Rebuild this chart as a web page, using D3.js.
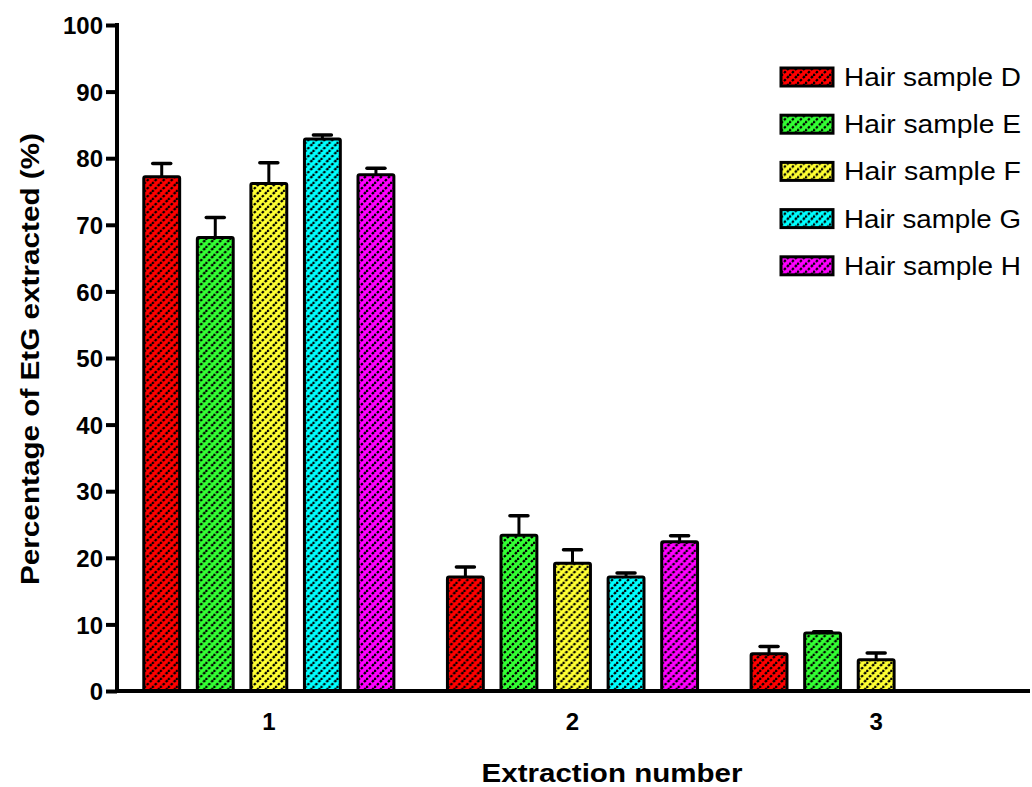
<!DOCTYPE html>
<html>
<head>
<meta charset="utf-8">
<script src="https://cdn.jsdelivr.net/npm/d3@7"></script>
<style>
  html, body { margin: 0; padding: 0; background: #fff; }
  svg { display: block; }
  text { font-family: "Liberation Sans", Arial, sans-serif; fill: #000; }
</style>
</head>
<body>
<svg id="chart" width="1032" height="787"></svg>
<script>
// Extraction rounds and hair samples
const extractions = ["1", "2", "3"];
const samples = ["Hair sample D", "Hair sample E", "Hair sample F", "Hair sample G", "Hair sample H"];
const sampleColors = ["#ff0000", "#33ff33", "#ffff33", "#00ffff", "#ff00ff"];

// Mean percentage of EtG extracted per sample, one array per extraction round
const meanExtraction1 = [77.2, 68.1, 76.2, 82.9, 77.5];
const meanExtraction2 = [17.1, 23.4, 19.2, 17.1, 22.4];
const meanExtraction3 = [5.6, 8.7, 4.7, null, null];

// Standard deviation (upper error bar) per sample
const sdExtraction1 = [2.0, 3.0, 3.1, 0.6, 1.0];
const sdExtraction2 = [1.5, 2.9, 2.0, 0.6, 0.9];
const sdExtraction3 = [1.1, 0.2, 1.0, null, null];

const yTicks = [0, 10, 20, 30, 40, 50, 60, 70, 80, 90, 100];

const means = [meanExtraction1, meanExtraction2, meanExtraction3];
const sds = [sdExtraction1, sdExtraction2, sdExtraction3];

const rows = [];
extractions.forEach((ex, i) => {
  samples.forEach((s, j) => {
    if (means[i][j] != null) {
      rows.push({ ex, sample: s, color: sampleColors[j], value: means[i][j], sd: sds[i][j] });
    }
  });
});

const svg = d3.select("#chart");

// Diagonal dotted hatch laid over every bar
const defs = svg.append("defs");
const pat = defs.append("pattern")
  .attr("id", "hatch")
  .attr("patternUnits", "userSpaceOnUse")
  .attr("width", 8).attr("height", 8);
pat.append("path")
  .attr("d", "M-2,2 L2,-2 M0,8 L8,0 M6,10 L10,6")
  .attr("stroke", "#000")
  .attr("stroke-width", 2.3)
  .attr("stroke-dasharray", "2.6,1.6");

const x0 = d3.scaleBand().domain(extractions).range([117, 1028]).padding(0);
const x1 = d3.scaleBand().domain(samples).range([0, x0.bandwidth()])
  .paddingInner(0.33).paddingOuter(0.5);
const y = d3.scaleLinear().domain([0, 100]).range([691, 25]);

// Bars
const bars = svg.append("g").selectAll("g").data(rows).join("g")
  .attr("transform", d => `translate(${x0(d.ex) + x1(d.sample)},0)`);

// Error bars (upper only)
bars.append("line")
  .attr("x1", x1.bandwidth() / 2).attr("x2", x1.bandwidth() / 2)
  .attr("y1", d => y(d.value)).attr("y2", d => y(d.value + d.sd))
  .attr("stroke", "#000").attr("stroke-width", 3);
bars.append("line")
  .attr("x1", x1.bandwidth() / 2 - 9).attr("x2", x1.bandwidth() / 2 + 9)
  .attr("y1", d => y(d.value + d.sd)).attr("y2", d => y(d.value + d.sd))
  .attr("stroke", "#000").attr("stroke-width", 3.5).attr("stroke-linecap", "round");

bars.append("rect")
  .attr("x", 0).attr("width", x1.bandwidth())
  .attr("y", d => y(d.value)).attr("height", d => y(0) - y(d.value))
  .attr("fill", d => d.color);
bars.append("rect")
  .attr("x", 0).attr("width", x1.bandwidth())
  .attr("y", d => y(d.value)).attr("height", d => y(0) - y(d.value))
  .attr("fill", "url(#hatch)");
bars.append("rect")
  .attr("x", 0).attr("width", x1.bandwidth())
  .attr("y", d => y(d.value)).attr("height", d => y(0) - y(d.value))
  .attr("fill", "none").attr("stroke", "#000").attr("stroke-width", 3)
  .attr("rx", 1.5);

// Y axis
const yAxis = svg.append("g")
  .attr("transform", "translate(117,0)")
  .call(d3.axisLeft(y).tickValues(yTicks).tickSize(11).tickPadding(3));
yAxis.select(".domain").remove();
yAxis.append("line")
  .attr("x1", 0).attr("x2", 0).attr("y1", y(100) - 2).attr("y2", y(0) + 2)
  .attr("stroke", "#000").attr("stroke-width", 4);
yAxis.selectAll(".tick line").attr("stroke", "#000").attr("stroke-width", 4);
yAxis.selectAll(".tick text")
  .style("font-family", "'Liberation Sans', Arial, sans-serif")
  .style("font-size", "24px").style("font-weight", "bold")
  .attr("fill", "#000").attr("dy", "0.36em");

// X axis
const xAxis = svg.append("g")
  .attr("transform", `translate(0,${y(0)})`)
  .call(d3.axisBottom(x0).tickSize(0).tickPadding(22));
xAxis.select(".domain").remove();
xAxis.append("line")
  .attr("x1", 115).attr("x2", 1030).attr("y1", 0).attr("y2", 0)
  .attr("stroke", "#000").attr("stroke-width", 4);
xAxis.selectAll(".tick text")
  .style("font-family", "'Liberation Sans', Arial, sans-serif")
  .style("font-size", "24px").style("font-weight", "bold")
  .attr("fill", "#000");

// Axis titles
svg.append("text")
  .attr("x", 612).attr("y", 782)
  .attr("text-anchor", "middle")
  .attr("textLength", 261).attr("lengthAdjust", "spacingAndGlyphs")
  .style("font-size", "26px").style("font-weight", "bold")
  .text("Extraction number");

svg.append("text")
  .attr("transform", "translate(39,359) rotate(-90)")
  .attr("text-anchor", "middle")
  .attr("textLength", 452).attr("lengthAdjust", "spacingAndGlyphs")
  .style("font-size", "25px").style("font-weight", "bold")
  .text("Percentage of EtG extracted (%)");

// Legend
const legend = svg.append("g").selectAll("g").data(samples).join("g")
  .attr("transform", (d, i) => `translate(781,${68 + i * 47.2})`);
legend.append("rect").attr("width", 52).attr("height", 18)
  .attr("fill", (d, i) => sampleColors[i]);
legend.append("rect").attr("width", 52).attr("height", 18)
  .attr("fill", "url(#hatch)");
legend.append("rect").attr("width", 52).attr("height", 18)
  .attr("fill", "none").attr("stroke", "#000").attr("stroke-width", 3);
legend.append("text")
  .attr("x", 63).attr("y", 18)
  .attr("textLength", 177).attr("lengthAdjust", "spacingAndGlyphs")
  .style("font-size", "26px")
  .text(d => d);
</script>
</body>
</html>
